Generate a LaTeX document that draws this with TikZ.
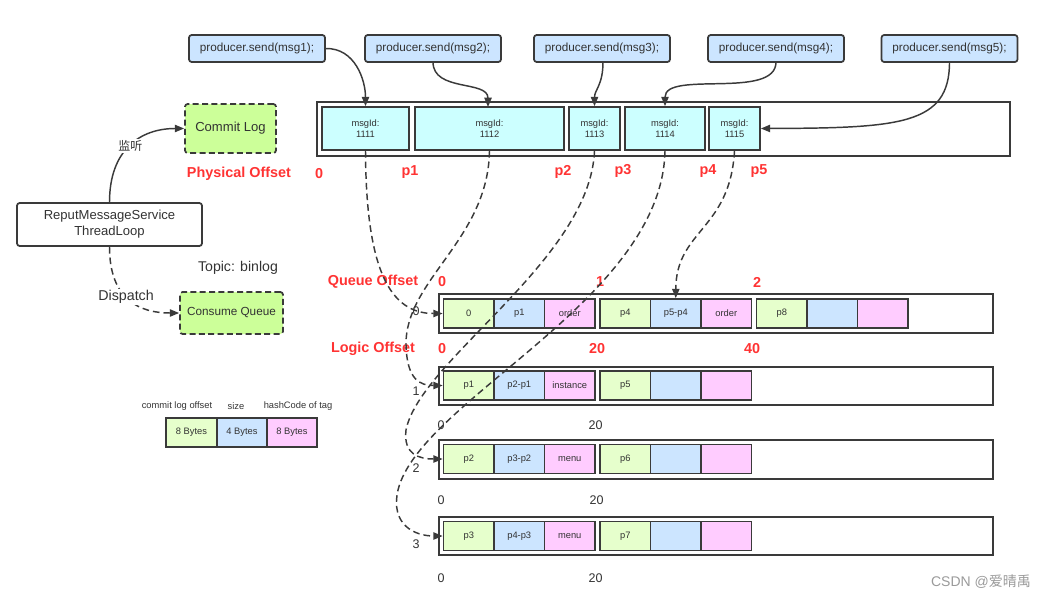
\documentclass[tikz,border=0pt]{standalone}
\usepackage{fontspec}
\setmainfont{Liberation Sans}
\newfontfamily\cjkfont{Noto Sans CJK SC}
\usetikzlibrary{arrows.meta}
\definecolor{ln}{HTML}{3A3A3A}
\definecolor{txt}{HTML}{333333}
\definecolor{pblue}{HTML}{CCE5FF}
\definecolor{mcyan}{HTML}{CCFFFF}
\definecolor{cgreen}{HTML}{E6FFCC}
\definecolor{cpink}{HTML}{FFCCFF}
\definecolor{lgreen}{HTML}{CCFF99}
\definecolor{lred}{HTML}{FF3333}
\definecolor{wm}{HTML}{9A9A9A}
\begin{document}
\begin{tikzpicture}[x=0.75pt,y=-0.75pt,
  every node/.style={inner sep=0pt, text=txt},
  prod/.style={draw=ln, line width=1.3pt, fill=pblue, rounded corners=2pt, minimum width=102pt, minimum height=20.25pt, font=\fontsize{8.8}{10}\selectfont},
  msgbox/.style={draw=ln, line width=1.3pt, fill=mcyan, minimum height=32.25pt, align=center, font=\fontsize{7}{8.25}\selectfont},
  cont/.style={draw=ln, line width=1.3pt, fill=white},
  cell/.style={draw=ln, line width=1.3pt, minimum width=37.875pt, minimum height=21.75pt, font=\fontsize{7}{8}\selectfont},
  cg/.style={cell, fill=cgreen}, cb/.style={cell, fill=pblue}, cp/.style={cell, fill=cpink},
  redlbl/.style={text=lred, font=\fontsize{10.8}{12}\selectfont\bfseries},
  num/.style={font=\fontsize{9.4}{11}\selectfont},
  small/.style={font=\fontsize{7}{8}\selectfont},
  conn/.style={draw=ln, line width=1.1pt, -{Triangle[length=7pt,width=5.5pt]}},
  dconn/.style={conn, dash pattern=on 5pt off 3pt},
  dashbox/.style={draw=ln, line width=1.3pt, fill=lgreen, rounded corners=2pt, dash pattern=on 4.5pt off 2.5pt},
]
\useasboundingbox (0,0) rectangle (1048,600);

% producers
\node[prod] (s1) at (257,48.5) {producer.send(msg1);};
\node[prod] (s2) at (433,48.5) {producer.send(msg2);};
\node[prod] (s3) at (602,48.5) {producer.send(msg3);};
\node[prod] (s4) at (776,48.5) {producer.send(msg4);};
\node[prod] (s5) at (949.5,48.5) {producer.send(msg5);};

% commit log container
\node[cont, minimum width=519.75pt, minimum height=40.5pt] (cl) at (663.5,129) {};
\node[msgbox, minimum width=65.25pt] (m1) at (365.5,128.5) {msgId:\\1111};
\node[msgbox, minimum width=111.75pt] (m2) at (489.5,128.5) {msgId:\\1112};
\node[msgbox, minimum width=38.25pt] (m3) at (594.5,128.5) {msgId:\\1113};
\node[msgbox, minimum width=60pt] (m4) at (665,128.5) {msgId:\\1114};
\node[msgbox, minimum width=38.25pt] (m5) at (734.5,128.5) {msgId:\\1115};

% left side
\node[dashbox, minimum width=68.25pt, minimum height=36.75pt, font=\fontsize{9.8}{11}\selectfont] (clog) at (230.5,128.5) {Commit Log};
\node[draw=ln, line width=1.3pt, fill=white, rounded corners=2pt, minimum width=138.75pt, minimum height=32.25pt, align=center, font=\fontsize{9.8}{12}\selectfont] (reput) at (109.5,224.5) {ReputMessageService\\ThreadLoop};
\node[dashbox, minimum width=77.25pt, minimum height=31.5pt, font=\fontsize{8.8}{10}\selectfont] (cq) at (231.5,313) {Consume Queue};
\node[font=\fontsize{10.6}{12}\selectfont] (topic) at (238,268) {Topic: binlog};

% physical offsets
\node[redlbl] (po) at (239,174) {Physical Offset};
\node[redlbl] (po0) at (319,174) {0};
\node[redlbl] (pp1) at (410,172) {p1};
\node[redlbl] (pp2) at (563,172) {p2};
\node[redlbl] (pp3) at (623,171) {p3};
\node[redlbl] (pp4) at (708,171) {p4};
\node[redlbl] (pp5) at (759,171) {p5};

% legend
\node[small] (lg1) at (177,406) {commit log offset};
\node[small] (lg2) at (236,406) {size};
\node[small] (lg3) at (298,406) {hashCode of tag};
\node[cg, minimum width=37.9pt] (lb1) at (191.5,432.5) {8 Bytes};
\node[cb, minimum width=37.5pt] (lb2) at (242,432.5) {4 Bytes};
\node[cp, minimum width=37.5pt] (lb3) at (292,432.5) {8 Bytes};

% queue/logic offset labels
\node[redlbl] (qo) at (373,282) {Queue Offset};
\node[redlbl] (qo0) at (442,282) {0};
\node[redlbl] (qo1) at (600,282) {1};
\node[redlbl] (qo2) at (757,282) {2};
\node[redlbl] (lo) at (373,349) {Logic Offset};
\node[redlbl] (lo0) at (442,349) {0};
\node[redlbl] (lo1) at (597,349) {20};
\node[redlbl] (lo2) at (752,349) {40};

% rows
\node[cont, minimum width=415.5pt, minimum height=29pt] (row0) at (716,313.5) {};
\node[cont, minimum width=415.5pt, minimum height=29pt] (row1) at (716,386) {};
\node[cont, minimum width=415.5pt, minimum height=29pt] (row2) at (716,459.5) {};
\node[cont, minimum width=415.5pt, minimum height=29pt] (row3) at (716,536) {};

\node[cg] (r0c1) at (468.75,313.5) {0};
\node[cb] (r0c2) at (519.25,313.5) {p1};
\node[cp] (r0c3) at (569.75,313.5) {order};
\node[cg] (r0c4) at (625.25,313.5) {p4};
\node[cb] (r0c5) at (675.75,313.5) {p5-p4};
\node[cp] (r0c6) at (726.25,313.5) {order};
\node[cg] (r0c7) at (781.75,313.5) {p8};
\node[cb] (r0c8) at (832.25,313.5) {};
\node[cp] (r0c9) at (882.75,313.5) {};

\node[cg] (r1c1) at (468.75,385.5) {p1};
\node[cb] (r1c2) at (519.25,385.5) {p2-p1};
\node[cp] (r1c3) at (569.75,385.5) {instance};
\node[cg] (r1c4) at (625.25,385.5) {p5};
\node[cb] (r1c5) at (675.75,385.5) {};
\node[cp] (r1c6) at (726.25,385.5) {};

\node[cg] (r2c1) at (468.75,459) {p2};
\node[cb] (r2c2) at (519.25,459) {p3-p2};
\node[cp] (r2c3) at (569.75,459) {menu};
\node[cg] (r2c4) at (625.25,459) {p6};
\node[cb] (r2c5) at (675.75,459) {};
\node[cp] (r2c6) at (726.25,459) {};

\node[cg] (r3c1) at (468.75,536) {p3};
\node[cb] (r3c2) at (519.25,536) {p4-p3};
\node[cp] (r3c3) at (569.75,536) {menu};
\node[cg] (r3c4) at (625.25,536) {p7};
\node[cb] (r3c5) at (675.75,536) {};
\node[cp] (r3c6) at (726.25,536) {};

% row indices
\node[num] (i0) at (416,311.5) {0};
\node[num] (i1) at (416,391) {1};
\node[num] (i2) at (416,468) {2};
\node[num] (i3) at (416,544) {3};

% logic offsets below rows
\node[num] (b10) at (441,425) {0};
\node[num] (b11) at (595.5,425) {20};
\node[num] (b20) at (441,500) {0};
\node[num] (b21) at (596.5,500) {20};
\node[num] (b30) at (441,578) {0};
\node[num] (b31) at (595.5,578) {20};

% watermark
\node[text=wm, font=\fontsize{10.5}{12}\selectfont] (wmk) at (981,582) {CSDN @{\cjkfont 爱晴禹}};

% producer arrows
\draw[conn] (s1.east) .. controls (355,48) and (365.5,80) .. (m1.north);
\draw[conn] (433,62) .. controls (433,92) and (488,80) .. (488,107);
\draw[conn] (603,62) .. controls (603,85) and (594.5,90) .. (m3.north);
\draw[conn] (776,62) .. controls (776,100) and (665,70) .. (m4.north);
\draw[conn] (949.5,62) .. controls (949.5,125) and (900,128) .. (m5.east);

% reput arrows
\draw[conn] (reput.north) .. controls (109.5,150) and (140,128.5) .. (clog.west)
  node[pos=0.5, fill=white, inner sep=1pt, font=\cjkfont\fontsize{9}{10}\selectfont] (lis) {监听};
\draw[dconn] (reput.south) .. controls (109.5,300) and (140,313) .. (cq.west)
  node[pos=0.45, fill=white, inner sep=1pt, font=\fontsize{10.7}{12}\selectfont] (dsp) {Dispatch};

% dispatch dashed connectors
\draw[dconn] (m1.south) .. controls (366,270) and (390,313.5) .. (r0c1.west);
\draw[dconn] (m2.south) .. controls (488,240) and (405,280) .. (406,345) .. controls (407,380) and (420,385.5) .. (r1c1.west);
\draw[dconn] (m3.south) .. controls (590,260) and (420,360) .. (406,430) .. controls (403,455) and (420,459) .. (r2c1.west);
\draw[dconn] (m4.south) .. controls (662,300) and (420,400) .. (398,490) .. controls (390,525) and (415,536) .. (r3c1.west);
\draw[dconn] (m5.south) .. controls (730,230) and (676,230) .. (r0c5.north);
\end{tikzpicture}
\end{document}
